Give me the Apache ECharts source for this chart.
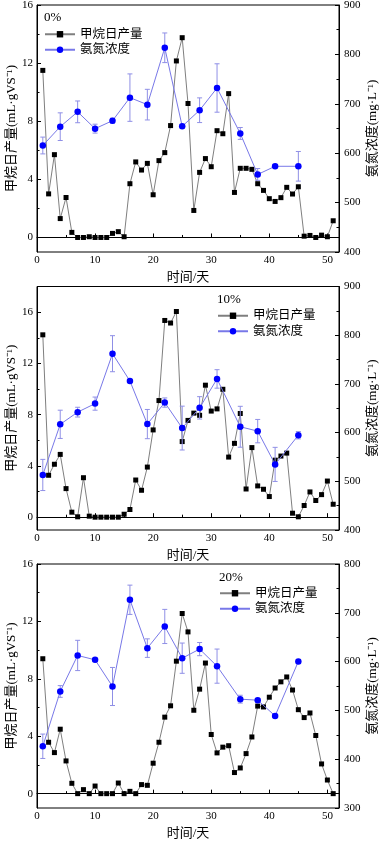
<!DOCTYPE html>
<html><head><meta charset="utf-8">
<script src="https://cdn.jsdelivr.net/npm/echarts@6/dist/echarts.min.js"></script>
<style>html,body{margin:0;padding:0;background:#fff}#c{width:384px;height:842px}</style>
</head><body><div id="c"></div>
<script>
var days = [1,2,3,4,5,6,7,8,9,10,11,12,13,14,15,16,17,18,19,20,21,22,23,24,25,26,27,28,29,30,31,32,33,34,35,36,37,38,39,40,41,42,43,44,45,46,47,48,49,50,51];
var ammDays = [1,4,7,10,13,16,19,22,25,28,31,35,38,41,45];
var xTicks = [0,10,20,30,40,50];
var panelLabels = ['0%','10%','20%'];

var methane0 = [11.5,3.0,5.7,1.3,2.75,0.35,0,0,0.05,0,0,0,0.28,0.4,0.05,3.7,5.2,4.64,5.1,2.94,5.29,5.84,7.7,12.15,13.75,9.22,1.86,4.48,5.43,4.87,7.35,7.14,9.9,3.1,4.76,4.76,4.69,3.7,3.24,2.67,2.48,2.74,3.45,2.99,3.49,0.09,0.14,0,0.16,0.05,1.15];
var ammonia0 = [615.6,653.7,683.7,649.7,665.8,712.5,698.3,813.4,654.4,687,732,640,557,573.5,573.5];
var err0 = [17,28,22,9,5,48,31,30,3,25,49,12,12,3,30];

var methane10 = [14.23,3.27,4.13,4.9,2.23,0.39,0.03,3.08,0.08,0,0,0,0,0,0.23,0.6,2.9,2.1,3.91,6.81,9.1,15.35,15.15,16.05,5.9,7.55,8.12,7.95,10.3,8.28,8.45,9.98,4.69,5.76,8.09,2.2,5.43,2.44,2.18,1.61,4.45,4.77,5.0,0.31,0.03,0.91,1.97,1.3,1.76,2.82,1.01];
var ammonia10 = [513,617,642,659.5,762,706,617.5,661.7,609.3,650.8,710.2,612,603,534.7,594.6];
var err10 = [32,29,10,13.5,37,3,30,9.5,45,23,19,42,24,35,7.5];

var methane20 = [9.4,3.58,2.86,4.49,2.28,0.72,0,0.28,0,0.53,0,0,0,0.74,0,0.16,0,0.63,0.58,2.12,3.58,5.33,6.12,9.23,12.55,11.27,5.81,7.28,9.1,4.12,2.84,3.24,3.34,1.47,1.79,2.79,3.95,6.1,6.04,6.72,7.36,7.79,8.13,7.22,5.85,5.3,5.62,4.05,2.07,0.95,0];
var ammonia20 = [426.5,538.8,612.6,603.6,549,726.7,627.6,672,607,625.6,590.7,523,521,488.7,600.3];
var err20 = [25,12,31,3,39,30,19,35,31,13.5,35,8,3,3,3];

var leftMin = [-1,-1,-1];
var leftMax = [16,18,16];
var leftLabels = [0,4,8,12,16];
var leftMinor = [2,6,10,14];
var rightMin = [400,400,300];
var rightMax = [900,900,800];

var methaneAll = [methane0, methane10, methane20];
var ammoniaAll = [ammonia0, ammonia10, ammonia20];
var errAll = [err0, err10, err20];

var grids = [
  {left:37, width:302, top:5, height:247},
  {left:37, width:302, top:286.5, height:243.5},
  {left:37, width:302, top:564, height:244}
];
var legendPos = [{left:44, top:28}, {left:217, top:309.5}, {left:219, top:587}];
var titlePos = [{left:44, top:11}, {left:217, top:293}, {left:219, top:571}];

var SERIF = 'Liberation Serif, "Times New Roman", "Noto Sans CJK SC", serif';
var black = '#000';
var errColor = '#8f8fe6';

function renderErr(params, api) {
  var x = api.value(0), lo = api.value(1), hi = api.value(2);
  var p1 = api.coord([x, hi]), p2 = api.coord([x, lo]);
  var w = 2.5;
  var st = {stroke: errColor, lineWidth: 1};
  return {type:'group', children:[
    {type:'line', shape:{x1:p1[0], y1:p1[1], x2:p2[0], y2:p2[1]}, style:st},
    {type:'line', shape:{x1:p1[0]-w, y1:p1[1], x2:p1[0]+w, y2:p1[1]}, style:st},
    {type:'line', shape:{x1:p2[0]-w, y1:p2[1], x2:p2[0]+w, y2:p2[1]}, style:st}
  ]};
}

var option = {
  animation:false,
  backgroundColor:'#fff',
  textStyle:{fontFamily:SERIF},
  grid:[], xAxis:[], yAxis:[], series:[], legend:[], title:[]
};

for (var i = 0; i < 3; i++) {
  var g = grids[i];
  option.grid.push({left:g.left, width:g.width, top:g.top, height:g.height, show:true, borderColor:black, borderWidth:1, backgroundColor:'transparent', containLabel:false, outerBoundsMode:'none'});
  option.xAxis.push({
    type:'value', gridIndex:i, min:0, max:52, interval:10,
    name:'时间/天', nameLocation:'middle', nameGap:19.5, nameMoveOverlap:false,
    nameTextStyle:{fontSize:13, color:black, fontFamily:SERIF},
    axisLine:{show:true, lineStyle:{color:black, width:1}},
    axisTick:{inside:true, length:4, lineStyle:{color:black}, customValues:xTicks},
    minorTick:{show:true, splitNumber:2, length:2.5, lineStyle:{color:black}},
    axisLabel:{fontSize:11, color:black, margin:3, fontFamily:SERIF, customValues:xTicks},
    splitLine:{show:false}, minorSplitLine:{show:false}
  });
  option.yAxis.push({
    type:'value', gridIndex:i, position:'left', min:leftMin[i], max:leftMax[i],
    name:'甲烷日产量(mL·gVS⁻¹)', nameLocation:'middle', nameGap:18.5, nameRotate:90, nameMoveOverlap:false,
    nameTextStyle:{fontSize:13, color:black, fontFamily:SERIF},
    axisLine:{show:true, lineStyle:{color:black, width:1}},
    axisTick:{inside:true, length:4, lineStyle:{color:black}, customValues:leftLabels},
    axisLabel:{fontSize:11, color:black, margin:4, fontFamily:SERIF, customValues:leftLabels},
    splitLine:{show:false}
  });
  option.yAxis.push({
    type:'value', gridIndex:i, position:'right', min:rightMin[i], max:rightMax[i], interval:100,
    name:'氨氮浓度(mg·L⁻¹)', nameLocation:'middle', nameGap:27.5, nameRotate:90, nameMoveOverlap:false,
    nameTextStyle:{fontSize:13, color:black, fontFamily:SERIF},
    axisLine:{show:true, lineStyle:{color:black, width:1}},
    axisTick:{inside:true, length:4, lineStyle:{color:black}},
    minorTick:{show:true, splitNumber:2, length:2.5, lineStyle:{color:black}},
    axisLabel:{fontSize:11, color:black, margin:5, fontFamily:SERIF},
    splitLine:{show:false}, minorSplitLine:{show:false}
  });
  option.yAxis.push({
    type:'value', gridIndex:i, position:'left', min:leftMin[i], max:leftMax[i],
    axisLine:{show:false},
    axisTick:{show:true, inside:true, length:2.5, lineStyle:{color:black}, customValues:leftMinor},
    axisLabel:{show:false},
    splitLine:{show:false}
  });

  var mData = days.map(function(d, k){ return [d, methaneAll[i][k]]; });
  var aData = ammDays.map(function(d, k){ return [d, ammoniaAll[i][k]]; });
  var eData = ammDays.map(function(d, k){ return [d, ammoniaAll[i][k] - errAll[i][k], ammoniaAll[i][k] + errAll[i][k]]; });

  option.series.push({
    name:'甲烷日产量', type:'line', xAxisIndex:i, yAxisIndex:3*i, data:mData,
    symbol:'rect', symbolSize:5, itemStyle:{color:black},
    lineStyle:{color:'#7f7f7f', width:1}, z:2
  });
  option.series.push({
    type:'custom', xAxisIndex:i, yAxisIndex:3*i+1, data:eData, renderItem:renderErr, z:3, silent:true
  });
  option.series.push({
    name:'氨氮浓度', type:'line', xAxisIndex:i, yAxisIndex:3*i+1, data:aData,
    symbol:'circle', symbolSize:6.5, itemStyle:{color:'#0000ff'},
    lineStyle:{color:'#7878e8', width:1}, z:4
  });

  option.legend.push({
    orient:'vertical', left:legendPos[i].left, top:legendPos[i].top,
    data:['甲烷日产量','氨氮浓度'], itemWidth:30, itemHeight:8, itemGap:3,
    textStyle:{fontSize:12.5, color:black, fontFamily:SERIF}, selectedMode:false, padding:0
  });
  option.title.push({
    text:panelLabels[i], left:titlePos[i].left, top:titlePos[i].top, padding:0,
    textStyle:{fontSize:13, fontWeight:'normal', color:black, fontFamily:SERIF}
  });
}

var chart = echarts.init(document.getElementById('c'), null, {renderer:'canvas'});
chart.setOption(option);
</script>
</body></html>
